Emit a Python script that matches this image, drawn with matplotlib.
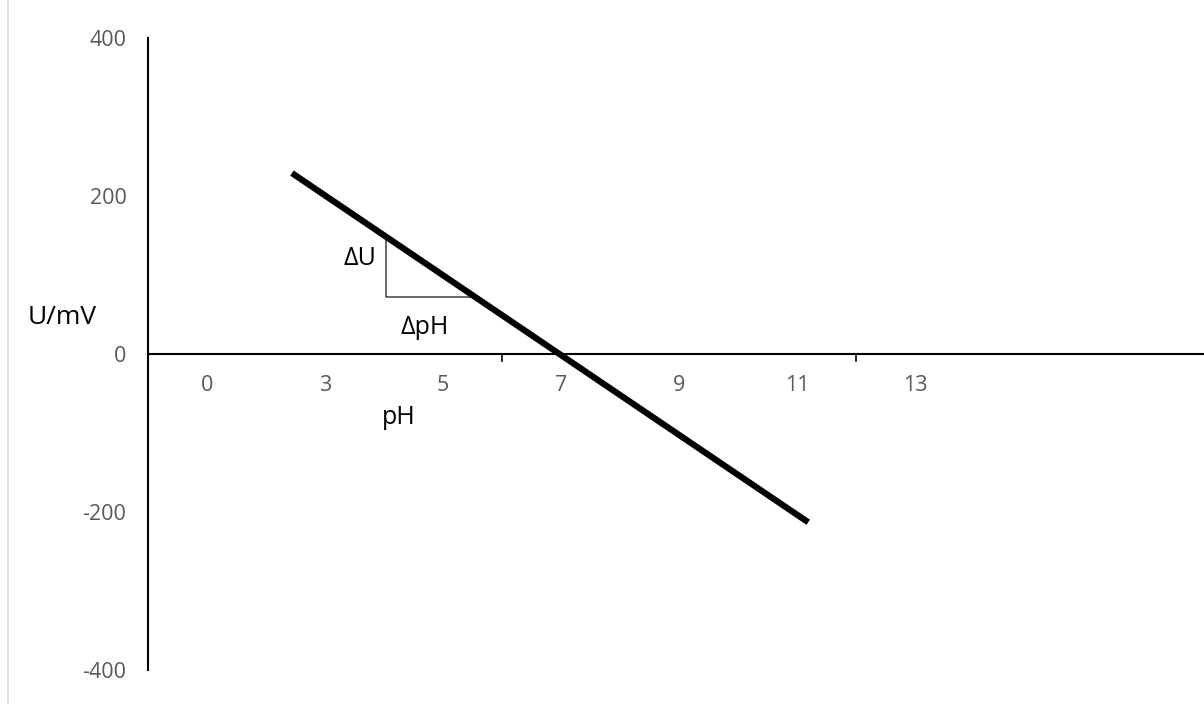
import matplotlib
matplotlib.use("Agg")
import matplotlib.pyplot as plt

plt.rcParams['font.family'] = ['Open Sans', 'DejaVu Sans']

# Axis categories (pH labels) and value ticks
ph_labels = ["0", "3", "5", "7", "9", "11", "13"]
u_ticks = [-400, -200, 0, 200, 400]

# Electrode response line (pH, U in mV)
line_ph = [2.44, 11.19]
line_u = [229, -213]

# Slope triangle: corner points (pH, U in mV)
tri_ph = [4.04, 4.04, 5.54]
tri_u = [148, 72.5, 72.5]

W, H = 1204, 704
fig = plt.figure(figsize=(W / 100, H / 100), dpi=100)

# left border of the chart area
fig.add_artist(plt.Line2D([8 / W, 8 / W], [0, 1], color="#d9d9d9", lw=1.2))

left, right = 148, 1204
top, bottom = 38, 670
ax = fig.add_axes([left / W, 1 - bottom / H, (right - left) / W, (bottom - top) / H])
ax.set_xlim(0, (right - left) / 59)
ax.set_ylim(-400, 400)

for s in ["top", "right", "bottom"]:
    ax.spines[s].set_visible(False)
ax.spines["left"].set_color("black")
ax.spines["left"].set_linewidth(1.5)

# horizontal axis through U = 0
ax.axhline(0, color="black", lw=1.5, zorder=2)
for xt in [6, 12]:
    ax.plot([xt, xt], [0, -8.5], color="black", lw=1.2, clip_on=False)

ax.set_xticks([])
ax.set_yticks(u_ticks)
ax.set_yticklabels([str(v) for v in u_ticks], color="#595959", fontsize=15.5)
ax.tick_params(axis="y", length=0, pad=15.5)

# category labels below the zero line
for i, lab in enumerate(ph_labels):
    ax.text(2 * i + 1, -40.5, lab, ha="center", va="center", color="#595959", fontsize=15.5)

ax.plot(line_ph, line_u, color="black", lw=4.5, solid_capstyle="butt", zorder=3)
ax.plot(tri_ph, tri_u, color="#404040", lw=1.1, zorder=2)

ax.text(3.59, 121.5, "ΔU", ha="center", va="center", fontsize=18)
ax.text(4.69, 34, "ΔpH", ha="center", va="center", fontsize=18)
ax.text(4.25, -81, "pH", ha="center", va="center", fontsize=18)
fig.text(62 / W, 1 - 318 / H, "U/mV", ha="center", va="center", fontsize=19)

fig.savefig("out.png", dpi=100)
